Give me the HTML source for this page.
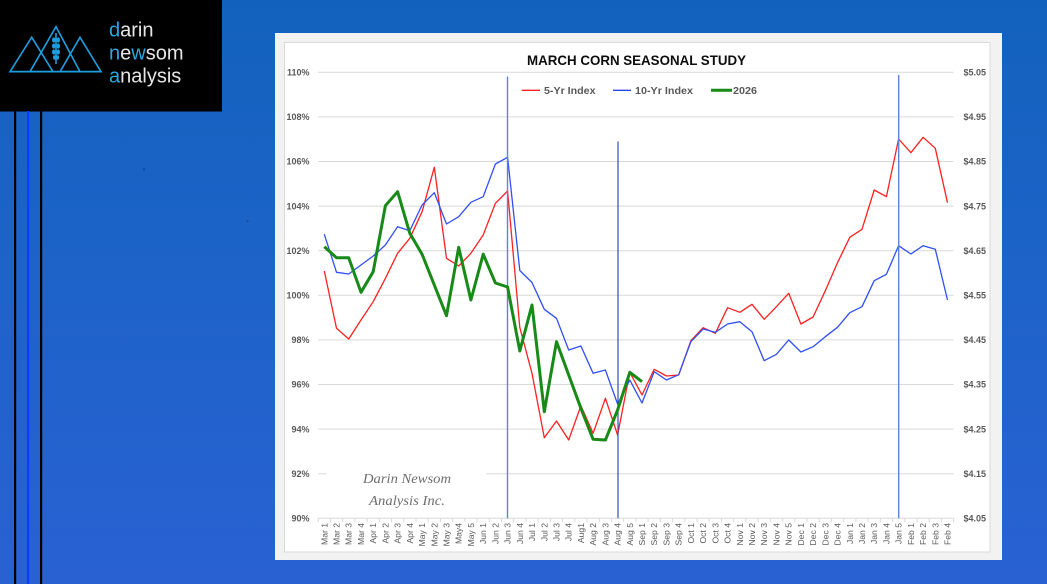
<!DOCTYPE html>
<html><head><meta charset="utf-8"><style>
html,body{margin:0;padding:0;width:1047px;height:584px;overflow:hidden}
body{background:linear-gradient(to bottom,#1262bd 0%,#1d63c8 45%,#2961d3 100%)}
svg{display:block}
</style></head><body>
<svg width="1047" height="584" viewBox="0 0 1047 584" xmlns="http://www.w3.org/2000/svg">
<!-- logo box -->
<rect x="0" y="0" width="222" height="111.5" fill="#000"/>
<g stroke="#1e9ee0" stroke-width="1.6" fill="none" stroke-linejoin="miter">
<polygon points="10,71.7 31.7,37.3 53,71.7"/>
<polygon points="30,71.7 56,26.7 80,71.7"/>
<polygon points="60,71.7 80,37.3 101,71.7"/>
<line x1="10" y1="71.7" x2="101" y2="71.7"/>
<line x1="56" y1="33" x2="56" y2="64"/>
</g>
<g fill="#1e9ee0">
<ellipse cx="53.8" cy="40" rx="1.8" ry="2.6"/><ellipse cx="58.2" cy="40" rx="1.8" ry="2.6"/>
<ellipse cx="53.8" cy="46" rx="1.8" ry="2.6"/><ellipse cx="58.2" cy="46" rx="1.8" ry="2.6"/>
<ellipse cx="53.8" cy="52" rx="1.8" ry="2.6"/><ellipse cx="58.2" cy="52" rx="1.8" ry="2.6"/>
<ellipse cx="54.5" cy="57.5" rx="1.5" ry="2.2"/><ellipse cx="57.5" cy="57.5" rx="1.5" ry="2.2"/>
</g>
<g font-family="Liberation Sans, sans-serif" font-size="20" fill="#e6e6e6">
<text x="109" y="36.7"><tspan fill="#29a8e0">d</tspan>arin</text>
<text x="109" y="59.3"><tspan fill="#29a8e0">n</tspan>e<tspan fill="#29a8e0">w</tspan>som</text>
<text x="109" y="82.7"><tspan fill="#29a8e0">a</tspan>nalysis</text>
</g>
<!-- left vertical bars -->
<rect x="14" y="111" width="2.2" height="473" fill="#000"/>
<rect x="27" y="111" width="2.2" height="473" fill="#0a3cff"/>
<rect x="40" y="111" width="2.2" height="473" fill="#000"/>
<rect x="143" y="168.5" width="2" height="1.5" fill="#10459a"/>
<rect x="246.5" y="220.5" width="2" height="1.5" fill="#10459a"/>

<!-- panel -->
<rect x="275" y="33" width="727" height="527" fill="#f2f2f2"/>
<rect x="284.5" y="42.5" width="705.5" height="509.5" fill="#fff" stroke="#d9d9d9" stroke-width="1"/>

<!-- gridlines -->
<g stroke="#d9d9d9" stroke-width="1">
<line x1="318.2" y1="72.3" x2="953.5" y2="72.3"/>
<line x1="318.2" y1="116.9" x2="953.5" y2="116.9"/>
<line x1="318.2" y1="161.5" x2="953.5" y2="161.5"/>
<line x1="318.2" y1="206.1" x2="953.5" y2="206.1"/>
<line x1="318.2" y1="250.7" x2="953.5" y2="250.7"/>
<line x1="318.2" y1="295.3" x2="953.5" y2="295.3"/>
<line x1="318.2" y1="339.9" x2="953.5" y2="339.9"/>
<line x1="318.2" y1="384.5" x2="953.5" y2="384.5"/>
<line x1="318.2" y1="429.1" x2="953.5" y2="429.1"/>
<line x1="318.2" y1="473.7" x2="953.5" y2="473.7"/>
<line x1="318.2" y1="518.3" x2="953.5" y2="518.3"/>
</g>
<!-- x ticks -->
<g stroke="#d9d9d9" stroke-width="1" id="ticks"></g>
<!-- watermark box -->
<rect x="326.5" y="462" width="160" height="50" fill="#fff"/>
<g font-family="Liberation Serif, serif" font-style="italic" font-size="13.5" fill="#6e6e6e" text-anchor="middle">
<text x="407" y="483" textLength="88" lengthAdjust="spacingAndGlyphs">Darin Newsom</text>
<text x="407" y="505" textLength="76" lengthAdjust="spacingAndGlyphs">Analysis Inc.</text>
</g>

<!-- title -->
<text x="636.5" y="65" text-anchor="middle" font-family="Liberation Sans, sans-serif" font-weight="bold" font-size="14" fill="#0d0d0d" textLength="219" lengthAdjust="spacingAndGlyphs">MARCH CORN SEASONAL STUDY</text>

<!-- legend -->
<line x1="521.7" y1="90.3" x2="540" y2="90.3" stroke="#ff2020" stroke-width="1.3"/>
<text x="544" y="93.8" font-family="Liberation Sans, sans-serif" font-weight="bold" font-size="10" fill="#595959" textLength="51.5" lengthAdjust="spacingAndGlyphs">5-Yr Index</text>
<line x1="613" y1="90.3" x2="631" y2="90.3" stroke="#2a48e8" stroke-width="1.3"/>
<text x="635" y="93.8" font-family="Liberation Sans, sans-serif" font-weight="bold" font-size="10" fill="#595959" textLength="58" lengthAdjust="spacingAndGlyphs">10-Yr Index</text>
<line x1="711" y1="90.3" x2="732" y2="90.3" stroke="#178a17" stroke-width="3"/>
<text x="733" y="93.8" font-family="Liberation Sans, sans-serif" font-weight="bold" font-size="10" fill="#595959" textLength="24" lengthAdjust="spacingAndGlyphs">2026</text>

<!-- left axis labels -->
<g font-family="Liberation Sans, sans-serif" font-weight="bold" font-size="9" fill="#595959" text-anchor="end">
<text x="309.5" y="75.5">110%</text>
<text x="309.5" y="120.1">108%</text>
<text x="309.5" y="164.7">106%</text>
<text x="309.5" y="209.3">104%</text>
<text x="309.5" y="253.9">102%</text>
<text x="309.5" y="298.5">100%</text>
<text x="309.5" y="343.1">98%</text>
<text x="309.5" y="387.7">96%</text>
<text x="309.5" y="432.3">94%</text>
<text x="309.5" y="476.9">92%</text>
<text x="309.5" y="521.5">90%</text>
</g>
<!-- right axis labels -->
<g font-family="Liberation Sans, sans-serif" font-weight="bold" font-size="9" fill="#595959">
<text x="963.5" y="75.5">$5.05</text>
<text x="963.5" y="120.1">$4.95</text>
<text x="963.5" y="164.7">$4.85</text>
<text x="963.5" y="209.3">$4.75</text>
<text x="963.5" y="253.9">$4.65</text>
<text x="963.5" y="298.5">$4.55</text>
<text x="963.5" y="343.1">$4.45</text>
<text x="963.5" y="387.7">$4.35</text>
<text x="963.5" y="432.3">$4.25</text>
<text x="963.5" y="476.9">$4.15</text>
<text x="963.5" y="521.5">$4.05</text>
</g>

<!-- x labels -->
<g font-family="Liberation Sans, sans-serif" font-size="8.6" fill="#595959" text-anchor="end">
<text transform="translate(327.3,523) rotate(-90)">Mar 1</text>
<text transform="translate(339.5,523) rotate(-90)">Mar 2</text>
<text transform="translate(351.7,523) rotate(-90)">Mar 3</text>
<text transform="translate(364,523) rotate(-90)">Mar 4</text>
<text transform="translate(376.2,523) rotate(-90)">Apr 1</text>
<text transform="translate(388.4,523) rotate(-90)">Apr 2</text>
<text transform="translate(400.6,523) rotate(-90)">Apr 3</text>
<text transform="translate(412.8,523) rotate(-90)">Apr 4</text>
<text transform="translate(425.1,523) rotate(-90)">May 1</text>
<text transform="translate(437.3,523) rotate(-90)">May 2</text>
<text transform="translate(449.5,523) rotate(-90)">May 3</text>
<text transform="translate(461.7,523) rotate(-90)">May4</text>
<text transform="translate(473.9,523) rotate(-90)">May 5</text>
<text transform="translate(486.2,523) rotate(-90)">Jun 1</text>
<text transform="translate(498.4,523) rotate(-90)">Jun 2</text>
<text transform="translate(510.6,523) rotate(-90)">Jun 3</text>
<text transform="translate(522.8,523) rotate(-90)">Jun 4</text>
<text transform="translate(535,523) rotate(-90)">Jul 1</text>
<text transform="translate(547.3,523) rotate(-90)">Jul 2</text>
<text transform="translate(559.5,523) rotate(-90)">Jul 3</text>
<text transform="translate(571.7,523) rotate(-90)">Jul 4</text>
<text transform="translate(583.9,523) rotate(-90)">Aug1</text>
<text transform="translate(596.1,523) rotate(-90)">Aug 2</text>
<text transform="translate(608.4,523) rotate(-90)">Aug 3</text>
<text transform="translate(620.6,523) rotate(-90)">Aug 4</text>
<text transform="translate(632.8,523) rotate(-90)">Aug 5</text>
<text transform="translate(645,523) rotate(-90)">Sep 1</text>
<text transform="translate(657.2,523) rotate(-90)">Sep 2</text>
<text transform="translate(669.5,523) rotate(-90)">Sep 3</text>
<text transform="translate(681.7,523) rotate(-90)">Sep 4</text>
<text transform="translate(693.9,523) rotate(-90)">Oct 1</text>
<text transform="translate(706.1,523) rotate(-90)">Oct 2</text>
<text transform="translate(718.3,523) rotate(-90)">Oct 3</text>
<text transform="translate(730.6,523) rotate(-90)">Oct 4</text>
<text transform="translate(742.8,523) rotate(-90)">Nov 1</text>
<text transform="translate(755,523) rotate(-90)">Nov 2</text>
<text transform="translate(767.2,523) rotate(-90)">Nov 3</text>
<text transform="translate(779.4,523) rotate(-90)">Nov 4</text>
<text transform="translate(791.7,523) rotate(-90)">Nov 5</text>
<text transform="translate(803.9,523) rotate(-90)">Dec 1</text>
<text transform="translate(816.1,523) rotate(-90)">Dec 2</text>
<text transform="translate(828.3,523) rotate(-90)">Dec 3</text>
<text transform="translate(840.5,523) rotate(-90)">Dec 4</text>
<text transform="translate(852.8,523) rotate(-90)">Jan 1</text>
<text transform="translate(865,523) rotate(-90)">Jan 2</text>
<text transform="translate(877.2,523) rotate(-90)">Jan 3</text>
<text transform="translate(889.4,523) rotate(-90)">Jan 4</text>
<text transform="translate(901.6,523) rotate(-90)">Jan 5</text>
<text transform="translate(913.9,523) rotate(-90)">Feb 1</text>
<text transform="translate(926.1,523) rotate(-90)">Feb 2</text>
<text transform="translate(938.3,523) rotate(-90)">Feb 3</text>
<text transform="translate(950.5,523) rotate(-90)">Feb 4</text>
</g>

<!-- series -->
<polyline fill="none" stroke="#ff2020" stroke-width="1.3" stroke-linejoin="round" points="324.3,271 336.5,328.3 348.7,339 361,320 373.2,301.7 385.4,278.3 397.6,253.3 409.8,238.3 422.1,211.7 434.3,167.3 446.5,258.3 458.7,266 470.9,253.3 483.2,235 495.4,203.3 507.6,191 519.8,327.5 532,373.3 544.3,437.7 556.5,421 568.7,440 580.9,405.7 593.1,433.3 605.4,398.3 617.6,435 629.8,372.3 642,395 654.2,369.3 666.5,376 678.7,375 690.9,340.7 703.1,327.7 715.3,333.3 727.6,307.7 739.8,312.3 752,304.3 764.2,319.3 776.4,306.7 788.7,293.3 800.9,324 813.1,317 825.3,290.7 837.5,262.7 849.8,237.3 862,229.3 874.2,190 886.4,196.7 898.6,139 910.9,152.7 923.1,137.3 935.3,148.3 947.5,202.7"/>
<polyline fill="none" stroke="#3050f5" stroke-width="1.3" stroke-linejoin="round" points="324.3,234.3 336.5,272.3 348.7,274 361,265 373.2,256 385.4,245 397.6,226.7 409.8,230.7 422.1,205 434.3,192.7 446.5,224 458.7,216.7 470.9,202.3 483.2,196.7 495.4,164 507.6,157.3 519.8,270.5 532,282.5 544.3,309.3 556.5,318.3 568.7,350 580.9,346 593.1,373.3 605.4,370 617.6,404 629.8,380 642,403 654.2,371.7 666.5,380 678.7,374.7 690.9,341.7 703.1,329 715.3,332.3 727.6,324 739.8,321.7 752,331.7 764.2,360.7 776.4,354.3 788.7,340 800.9,352 813.1,346.7 825.3,336.7 837.5,327.3 849.8,312.7 862,306.7 874.2,280.7 886.4,274.3 898.6,245.7 910.9,254 923.1,245.7 935.3,249.3 947.5,300"/>

<!-- vertical markers -->
<line x1="507.5" y1="76.5" x2="507.5" y2="518.3" stroke="#5d84d8" stroke-width="1.4"/>
<line x1="618" y1="141.5" x2="618" y2="518.3" stroke="#2f4fb8" stroke-width="1.2"/>
<line x1="898.7" y1="75" x2="898.7" y2="518.3" stroke="#5d84d8" stroke-width="1.4"/>

<polyline fill="none" stroke="#178a17" stroke-width="3" stroke-linejoin="round" points="324.3,246.7 336.5,257.7 348.7,257.7 361,292.3 373.2,271.7 385.4,205.7 397.6,191.7 409.8,233.3 422.1,254.3 434.3,285 446.5,315.7 458.7,247.3 470.9,300 483.2,254.2 495.4,283 507.6,287 519.8,351 532,305 544.3,411.7 556.5,341.7 568.7,375 580.9,408.3 593.1,439.3 605.4,440 617.6,410 629.8,372.3 642,381.7"/>

<!-- axis ticks -->
<path stroke="#d9d9d9" stroke-width="1" fill="none" d="M318.2,518.3v4 M330.4,518.3v4 M342.6,518.3v4 M354.9,518.3v4 M367.1,518.3v4 M379.3,518.3v4 M391.5,518.3v4 M403.7,518.3v4 M416,518.3v4 M428.2,518.3v4 M440.4,518.3v4 M452.6,518.3v4 M464.8,518.3v4 M477.1,518.3v4 M489.3,518.3v4 M501.5,518.3v4 M513.7,518.3v4 M525.9,518.3v4 M538.2,518.3v4 M550.4,518.3v4 M562.6,518.3v4 M574.8,518.3v4 M587,518.3v4 M599.3,518.3v4 M611.5,518.3v4 M623.7,518.3v4 M635.9,518.3v4 M648.1,518.3v4 M660.4,518.3v4 M672.6,518.3v4 M684.8,518.3v4 M697,518.3v4 M709.2,518.3v4 M721.5,518.3v4 M733.7,518.3v4 M745.9,518.3v4 M758.1,518.3v4 M770.3,518.3v4 M782.6,518.3v4 M794.8,518.3v4 M807,518.3v4 M819.2,518.3v4 M831.4,518.3v4 M843.7,518.3v4 M855.9,518.3v4 M868.1,518.3v4 M880.3,518.3v4 M892.5,518.3v4 M904.8,518.3v4 M917,518.3v4 M929.2,518.3v4 M941.4,518.3v4 M953.6,518.3v4"/>
</svg>
</body></html>
